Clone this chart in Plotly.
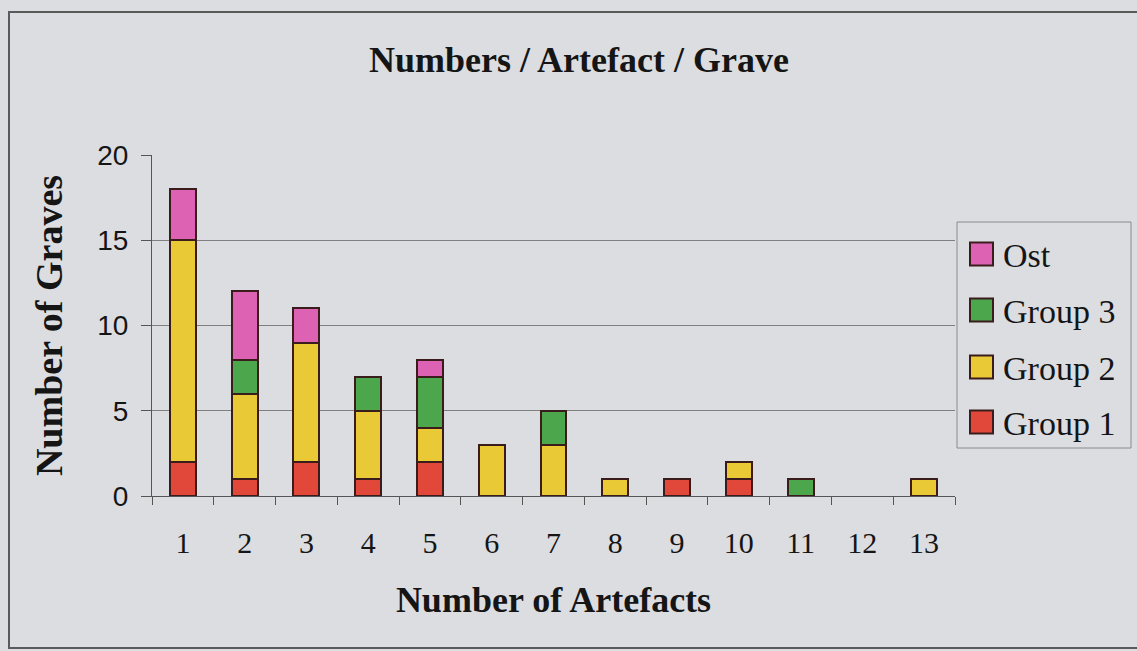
import plotly.graph_objects as go

categories = ["1", "2", "3", "4", "5", "6", "7", "8", "9", "10", "11", "12", "13"]
group1 = [2, 1, 2, 1, 2, 0, 0, 0, 1, 1, 0, 0, 0]
group2 = [13, 5, 7, 4, 2, 3, 3, 1, 0, 1, 0, 0, 1]
group3 = [0, 2, 0, 2, 3, 0, 2, 0, 0, 0, 1, 0, 0]
ost = [3, 4, 2, 0, 1, 0, 0, 0, 0, 0, 0, 0, 0]

series = [
    ("Group 1", group1, "#e2483a"),
    ("Group 2", group2, "#e9c935"),
    ("Group 3", group3, "#4ca64c"),
    ("Ost", ost, "#de62b4"),
]

W, H = 1137, 651
L, R, T, B = 152, 182, 155, 155
PW, PH = W - L - R, H - T - B
bg = "#dcdde1"
outline = "#3a1c1c"
serif = "Liberation Serif"
ink = "#151515"


def px(x):
    return (x - L) / PW


def py(y):
    return (H - B - y) / PH


fig = go.Figure()
for name, vals, col in series:
    fig.add_trace(go.Bar(
        x=categories, y=[v if v else None for v in vals], name=name,
        marker=dict(color=col, line=dict(color=outline, width=2)),
        width=0.42, showlegend=False,
    ))

shapes = [
    # outer frame
    dict(type="rect", xref="paper", yref="paper",
         x0=px(9), x1=px(1150), y0=py(648), y1=py(12),
         line=dict(color="#5a5a5a", width=2)),
    # legend box
    dict(type="rect", xref="paper", yref="paper",
         x0=px(957), x1=px(1131), y0=py(448), y1=py(222),
         line=dict(color="#8a8a8a", width=1), fillcolor=bg),
]
annotations = []
centers = [422, 367, 310, 254]  # Group 1 .. Ost (legend order reversed)
for (name, vals, col), cy in zip(series, centers):
    shapes.append(dict(type="rect", xref="paper", yref="paper",
                       x0=px(970), x1=px(993), y0=py(cy + 11.5), y1=py(cy - 11.5),
                       line=dict(color=outline, width=2), fillcolor=col))
    annotations.append(dict(text=name, xref="paper", yref="paper",
                            x=px(1001), y=py(cy + 1), xanchor="left", yanchor="middle",
                            showarrow=False,
                            font=dict(family=serif, size=34, color=ink)))

fig.update_layout(
    barmode="stack",
    width=W, height=H,
    paper_bgcolor=bg, plot_bgcolor=bg,
    margin=dict(l=L, r=R, t=T, b=B),
    title=dict(text="<b>Numbers / Artefact / Grave</b>", x=579 / W, xanchor="center",
               y=1 - 59 / H, yanchor="middle",
               font=dict(family=serif, size=36, color=ink)),
    showlegend=False,
    xaxis=dict(type="category", tickson="boundaries", ticks="outside", ticklen=8,
               tickcolor="#555", showline=True, linecolor="#555", linewidth=1,
               showgrid=False, ticklabelstandoff=20,
               tickfont=dict(family=serif, size=30, color=ink),
               title=dict(text="<b>Number of Artefacts</b>", standoff=28,
                          font=dict(family=serif, size=36, color=ink))),
    yaxis=dict(range=[0, 20], tickvals=[0, 5, 10, 15, 20], ticks="outside", ticklen=10,
               tickcolor="#555", showline=True, linecolor="#555", linewidth=1,
               showgrid=True, gridcolor="#808080", gridwidth=1, zeroline=False,
               ticklabelstandoff=7,
               tickfont=dict(family="Liberation Sans", size=28, color=ink),
               title=dict(text="<b>Number of Graves</b>", standoff=22,
                          font=dict(family=serif, size=38, color=ink))),
    shapes=shapes,
    annotations=annotations,
)

fig.write_html("out.html", config={"displayModeBar": False},
               post_script="document.body.style.margin='0';"
                           "document.body.style.background='" + bg + "';")
